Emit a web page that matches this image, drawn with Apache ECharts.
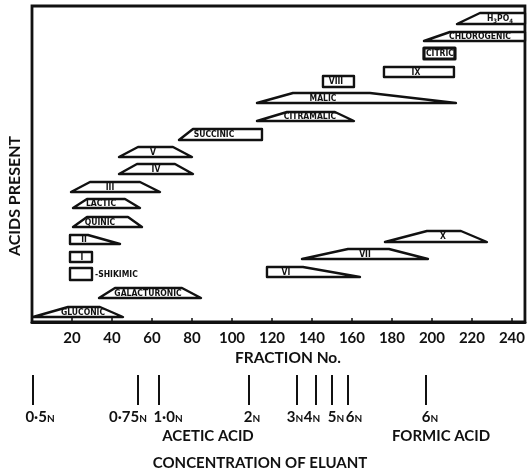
<!DOCTYPE html>
<html><head><meta charset="utf-8">
<script src="https://cdn.jsdelivr.net/npm/echarts@6/dist/echarts.min.js"></script>
<style>html,body{margin:0;padding:0;background:#fff}#c{width:528px;height:473px}</style>
</head><body><div id="c"></div>
<script>
// Acid elution bands (fraction numbers)
const acids      = ['GLUCONIC','GALACTURONIC','SHIKIMIC','I','II','QUINIC','LACTIC','III','IV','V','SUCCINIC','CITRAMALIC','MALIC','VIII','IX','CITRIC','CHLOROGENIC','H3PO4','VI','VII','X'];
const baseStart  = [0.5, 33.5, 19, 19, 19, 20.5, 20.5, 19.5, 43.5, 43.5, 73.5, 112.5, 112.5, 145.5, 176, 196, 196, 212.5, 117.5, 135, 176.5];
const topStart   = [18, 41.5, 19, 19, 19, 27.5, 27.5, 29, 52.5, 53, 80.5, 127.5, 130.5, 145.5, 176, 196, 209, 224, 117.5, 158, 197.5];
const topEnd     = [34, 75, 30, 30, 28, 48, 46.5, 54, 71.5, 70.5, 115, 151.5, 169, 161, 211, 211.5, 246.5, 246.5, 135.5, 178.5, 214.5];
const baseEnd    = [45.5, 84.5, 30, 30, 44, 55, 54, 64, 80.5, 80, 115, 161, 212, 161, 211, 211.5, 246.5, 246.5, 164, 198, 227.5];
const rowLow     = [5, 24, 42, 60, 78, 95, 114, 130, 148, 165, 182, 201, 219, 235, 245, 263, 281, 298, 45, 63, 80];
const rowHigh    = [15, 34, 54, 70, 87, 105, 123, 140, 158, 175, 193, 210, 229, 246, 255, 274, 290, 309, 55, 73, 91];
// where each band's name sits (fraction no.)
const labelAt    = [25.5, 58, 31.5, 25, 26, 34, 34.5, 39, 62, 60.5, 91, 139, 145.5, 152, 192, 204, 224, 234, 127, 166.5, 205.5];

// Eluant concentration changes
const concFraction = [0.5, 53, 63.5, 108.5, 132.5, 142, 150, 158, 197];
const concValue    = ['0·5', '0·75', '1·0', '2', '3', '4', '5', '6', '6'];
const concShiftPx  = [7, -10, 9, 3, -2, -4, 4, 6, 4];

const xMin = 0, xMax = 246.5, xStep = 20;

const bandData = acids.map((n, i) => [baseStart[i], topStart[i], topEnd[i], baseEnd[i], rowLow[i], rowHigh[i], labelAt[i], i]);
const concData = concFraction.map((f, i) => [f, i]);

const LBL_FONT = "'Liberation Sans Narrow','DejaVu Sans Condensed','Liberation Sans',sans-serif";
const MAIN_FONT = "Lato,'Liberation Sans',sans-serif";

function bandItem(params, api) {
  const bs = api.value(0), ts = api.value(1), te = api.value(2), be = api.value(3);
  const lo = api.value(4), hi = api.value(5), la = api.value(6), i = api.value(7);
  const pts = [api.coord([bs, lo]), api.coord([ts, hi]), api.coord([te, hi]), api.coord([be, lo])];
  const name = acids[i];
  const mid = api.coord([la, (lo + hi) / 2]);
  const children = [{
    type: 'polygon',
    shape: { points: pts },
    style: { fill: '#fff', stroke: '#111', lineWidth: name === 'CITRIC' ? 3.2 : 2.4, lineJoin: 'round' }
  }];
  let text = name, rich = null, align = 'center';
  if (name === 'H3PO4') {
    text = 'H{s|3}PO{s|4}';
    rich = { s: { fontSize: 6, fontWeight: 'bold', fontFamily: LBL_FONT, fill: '#111', padding: [5, 0, 0, 0] } };
  }
  if (name === 'SHIKIMIC') { text = '-SHIKIMIC'; align = 'left'; }
  const st = { text: text, x: mid[0], y: mid[1] + 0.5, align: align, verticalAlign: 'middle',
    fontSize: 8.5, fontWeight: 'bold', fontFamily: LBL_FONT, fill: '#111' };
  if (rich) st.rich = rich;
  children.push({ type: 'text', style: st });
  return { type: 'group', children: children };
}

function concItem(params, api) {
  const f = api.value(0), i = api.value(1);
  const top = api.coord([f, 1]), bot = api.coord([f, 0]);
  return { type: 'group', children: [
    { type: 'line', shape: { x1: top[0], y1: top[1], x2: bot[0], y2: bot[1] }, style: { stroke: '#111', lineWidth: 2 } },
    { type: 'text', style: {
        text: '{a|' + concValue[i] + '}{n|N}', x: bot[0] + concShiftPx[i], y: bot[1] + 12,
        align: 'center', verticalAlign: 'middle',
        rich: {
          a: { fontSize: 15, fontWeight: 'bold', fontFamily: MAIN_FONT, fill: '#111' },
          n: { fontSize: 10, fontWeight: 'bold', fontFamily: MAIN_FONT, fill: '#111', padding: [3, 0, 0, 0] }
        } } }
  ]};
}

const chart = echarts.init(document.getElementById('c'));
chart.setOption({
  animation: false,
  backgroundColor: '#fff',
  grid: [
    { left: 32, right: 3, top: 6, bottom: 151, show: true, borderColor: '#111', borderWidth: 2.8, backgroundColor: 'transparent' },
    { left: 32, right: 3, top: 375, height: 30 }
  ],
  xAxis: [
    { type: 'value', gridIndex: 0, min: xMin, max: xMax, interval: xStep,
      axisLine: { show: true, lineStyle: { color: '#111', width: 3 } },
      axisTick: { show: true, inside: true, length: 4, lineStyle: { color: '#111', width: 1.5 } },
      splitLine: { show: false },
      axisLabel: { showMaxLabel: false, margin: 9, color: '#111', fontSize: 15, fontWeight: 'bold', fontFamily: MAIN_FONT,
        formatter: v => (v > 0 && v % xStep === 0) ? String(v) : '' } },
    { type: 'value', gridIndex: 1, min: xMin, max: xMax, show: false }
  ],
  yAxis: [
    { type: 'value', gridIndex: 0, min: 0, max: 316, show: false, splitLine: { show: false } },
    { type: 'value', gridIndex: 1, min: 0, max: 1, show: false, splitLine: { show: false } }
  ],
  series: [
    { type: 'custom', xAxisIndex: 0, yAxisIndex: 0, renderItem: bandItem, data: bandData, clip: false,
      encode: { x: [0, 1, 2, 3], y: [4, 5] } },
    { type: 'custom', xAxisIndex: 1, yAxisIndex: 1, renderItem: concItem, data: concData, clip: false,
      encode: { x: 0, y: 1 } }
  ],
  graphic: [
    { type: 'text', x: 15, y: 196, rotation: Math.PI / 2,
      style: { text: 'ACIDS PRESENT', align: 'center', verticalAlign: 'middle', fontSize: 16, fontWeight: 'bold', fontFamily: MAIN_FONT, fill: '#111' } },
    { type: 'text', x: 288, y: 358,
      style: { text: 'FRACTION No.', align: 'center', verticalAlign: 'middle', fontSize: 15.5, fontWeight: 'bold', fontFamily: MAIN_FONT, fill: '#111' } },
    { type: 'text', x: 208, y: 436,
      style: { text: 'ACETIC ACID', align: 'center', verticalAlign: 'middle', fontSize: 15, fontWeight: 'bold', fontFamily: MAIN_FONT, fill: '#111' } },
    { type: 'text', x: 441, y: 436,
      style: { text: 'FORMIC ACID', align: 'center', verticalAlign: 'middle', fontSize: 15, fontWeight: 'bold', fontFamily: MAIN_FONT, fill: '#111' } },
    { type: 'text', x: 260, y: 463,
      style: { text: 'CONCENTRATION OF ELUANT', align: 'center', verticalAlign: 'middle', fontSize: 15, fontWeight: 'bold', fontFamily: MAIN_FONT, fill: '#111' } }
  ]
});
</script>
</body></html>
